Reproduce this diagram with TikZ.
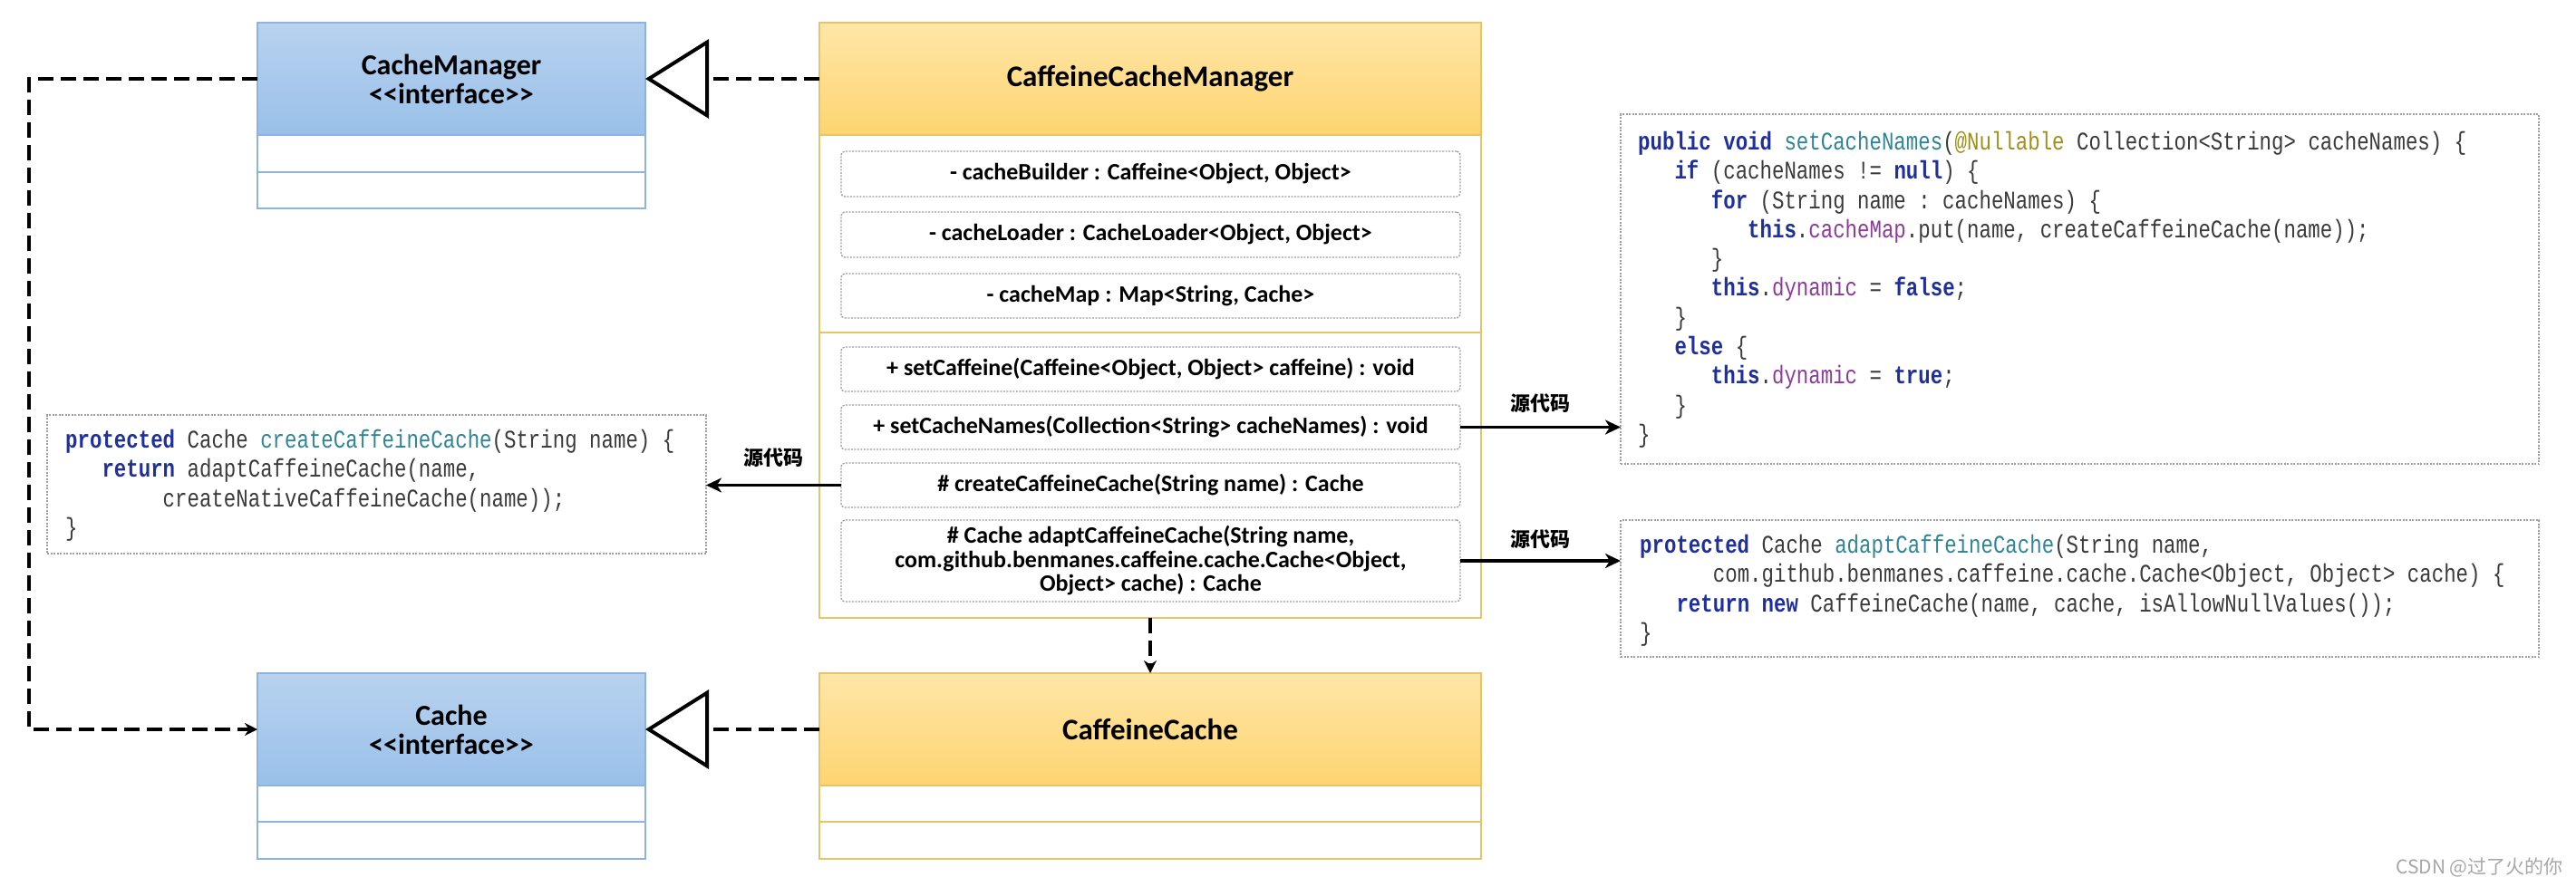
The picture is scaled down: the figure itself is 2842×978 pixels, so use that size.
\documentclass[tikz,border=0pt]{standalone}
\usepackage{fontspec}
\usetikzlibrary{arrows.meta,calc}
\newfontfamily\umlfont{Carlito}
\newfontfamily\codefont[FakeStretch=0.8]{Liberation Mono}
\newfontfamily\cjkfont{Noto Sans CJK SC}
\definecolor{bluetop}{HTML}{B8D2EF}
\definecolor{bluebot}{HTML}{9AC0E9}
\definecolor{blueline}{HTML}{8DB3E2}
\definecolor{yeltop}{HTML}{FFE6A8}
\definecolor{yelbot}{HTML}{FDD470}
\definecolor{yelline}{HTML}{E8C468}
\definecolor{kwc}{HTML}{1F2F9C}
\definecolor{fnc}{HTML}{2F8597}
\definecolor{annc}{HTML}{A08F1A}
\definecolor{fldc}{HTML}{8E3A9E}
\definecolor{codec}{HTML}{3A3A3A}
\newcommand\kwd[1]{{\bfseries\color{kwc}#1}}
\newcommand\fnn[1]{{\color{fnc}#1}}
\newcommand\annot[1]{{\color{annc}#1}}
\newcommand\fldn[1]{{\color{fldc}#1}}
\tikzset{
  ubox/.style={rectangle, anchor=north west, inner sep=0pt, outer sep=0pt, line width=1.5pt},
  bluehead/.style={ubox, draw=blueline, top color=bluetop, bottom color=bluebot,
     font=\umlfont\bfseries\fontsize{32}{32}\selectfont, align=center},
  bluecomp/.style={ubox, draw=blueline, fill=white},
  yelhead/.style={ubox, draw=yelline, top color=yeltop, bottom color=yelbot,
     font=\umlfont\bfseries\fontsize{33}{33}\selectfont, align=center},
  yelcomp/.style={ubox, draw=yelline, fill=white},
  member/.style={ubox, draw=gray!75, dash pattern=on 2pt off 1.5pt, line width=1.4pt,
     rounded corners=4pt, fill=white, align=center,
     font=\umlfont\bfseries\fontsize{26}{26.5}\selectfont},
  codebox/.style={ubox, draw=gray!75, dash pattern=on 2pt off 1.5pt, line width=1.4pt, fill=white},
  codetext/.style={anchor=north west, inner sep=0pt, align=left, text=codec,
     font=\codefont\fontsize{28}{32.3}\selectfont\frenchspacing},
  realize/.style={line width=4pt, dash pattern=on 17pt off 8pt,
     -{Triangle[fill=white, length=70pt, width=87pt, line width=4pt]}},
  dep/.style={line width=4pt, dash pattern=on 17pt off 8pt,
     -{Stealth[length=14pt, width=14pt]}},
  src/.style={line width=3.5pt, -{Stealth[length=17pt, width=16pt, inset=5pt]}},
  srclabel/.style={font=\cjkfont\bfseries\fontsize{22}{22}\selectfont, inner sep=0pt}
}
\begin{document}
\begin{tikzpicture}[x=1pt, y=-1pt]
\useasboundingbox (0,0) rectangle (2842,978);
% CacheManager
\node[bluehead, minimum width=428pt, minimum height=124pt] (cmh) at (284,25) {CacheManager\\<{}<interface>{}>};
\node[bluecomp, minimum width=428pt, minimum height=41pt] (cmc1) at (284,149) {};
\node[bluecomp, minimum width=428pt, minimum height=40pt] (cmc2) at (284,190) {};
% Cache
\node[bluehead, minimum width=428pt, minimum height=124pt] (cacheh) at (284,743) {Cache\\<{}<interface>{}>};
\node[bluecomp, minimum width=428pt, minimum height=40pt] (cachec1) at (284,867) {};
\node[bluecomp, minimum width=428pt, minimum height=41pt] (cachec2) at (284,907) {};
% CaffeineCacheManager
\node[yelhead, minimum width=730pt, minimum height=124pt] (ccmh) at (904,25) {CaffeineCacheManager};
\node[yelcomp, minimum width=730pt, minimum height=218pt] (ccmf) at (904,149) {};
\node[yelcomp, minimum width=730pt, minimum height=315pt] (ccmm) at (904,367) {};
\node[member, minimum width=683pt, minimum height=50pt] (f1) at (928,167) {- cacheBuilder : Caffeine<Object, Object>};
\node[member, minimum width=683pt, minimum height=50pt] (f2) at (928,234) {- cacheLoader : CacheLoader<Object, Object>};
\node[member, minimum width=683pt, minimum height=49pt] (f3) at (928,302) {- cacheMap : Map<String, Cache>};
\node[member, minimum width=683pt, minimum height=49pt] (m1) at (928,383) {+ setCaffeine(Caffeine<Object, Object> caffeine) : void};
\node[member, minimum width=683pt, minimum height=49pt] (m2) at (928,447) {+ setCacheNames(Collection<String> cacheNames) : void};
\node[member, minimum width=683pt, minimum height=49pt] (m3) at (928,511) {\# createCaffeineCache(String name) : Cache};
\node[member, minimum width=683pt, minimum height=90pt] (m4) at (928,574) {\# Cache adaptCaffeineCache(String name,\\com.github.benmanes.caffeine.cache.Cache<Object,\\Object> cache) : Cache};
% CaffeineCache
\node[yelhead, minimum width=730pt, minimum height=124pt] (cch) at (904,743) {CaffeineCache};
\node[yelcomp, minimum width=730pt, minimum height=40pt] (ccc1) at (904,867) {};
\node[yelcomp, minimum width=730pt, minimum height=41pt] (ccc2) at (904,907) {};
% code boxes
\node[codebox, minimum width=727pt, minimum height=153pt] (lc) at (52,458) {};
\node[codetext] (lct) at (72,474) {\kwd{protected} Cache \fnn{createCaffeineCache}(String name) \{\\
~~~\kwd{return} adaptCaffeineCache(name,\\
~~~~~~~~createNativeCaffeineCache(name));\\
\}};
\node[codebox, minimum width=1013pt, minimum height=386pt] (rc1) at (1788,126) {};
\node[codetext] (rc1t) at (1807,145) {\kwd{public} \kwd{void} \fnn{setCacheNames}(\annot{@Nullable} Collection<String> cacheNames) \{\\
~~~\kwd{if} (cacheNames != \kwd{null}) \{\\
~~~~~~\kwd{for} (String name : cacheNames) \{\\
~~~~~~~~~\kwd{this}.\fldn{cacheMap}.put(name, createCaffeineCache(name));\\
~~~~~~\}\\
~~~~~~\kwd{this}.\fldn{dynamic} = \kwd{false};\\
~~~\}\\
~~~\kwd{else} \{\\
~~~~~~\kwd{this}.\fldn{dynamic} = \kwd{true};\\
~~~\}\\
\}};
\node[codebox, minimum width=1013pt, minimum height=151pt] (rc2) at (1788,574) {};
\node[codetext] (rc2t) at (1809,590) {\kwd{protected} Cache \fnn{adaptCaffeineCache}(String name,\\
~~~~~~com.github.benmanes.caffeine.cache.Cache<Object, Object> cache) \{\\
~~~\kwd{return} \kwd{new} CaffeineCache(name, cache, isAllowNullValues());\\
\}};
% connectors
\coordinate (bend) at (32,87);
\draw[realize] (ccmh.west) -- (cmh.east);
\draw[realize] (cch.west) -- (cacheh.east);
\draw[dep] (cmh.west) -- (bend) |- (cacheh.west);
\draw[dep] (ccmm.south) -- (cch.north);
\draw[src] (m2.east) -- (m2.east -| rc1.west) node[srclabel, midway, above=14pt] {源代码};
\draw[src] (m4.east) -- (m4.east -| rc2.west) node[srclabel, midway, above=12pt] {源代码};
\draw[src] (m3.west) -- (m3.west -| lc.east) node[srclabel, midway, above=18pt] {源代码};
\node[anchor=east, inner sep=0pt, text=gray!70, font=\cjkfont\fontsize{21}{21}\selectfont] (wm) at (2828,957) {CSDN @过了火的你};
\end{tikzpicture}
\end{document}
